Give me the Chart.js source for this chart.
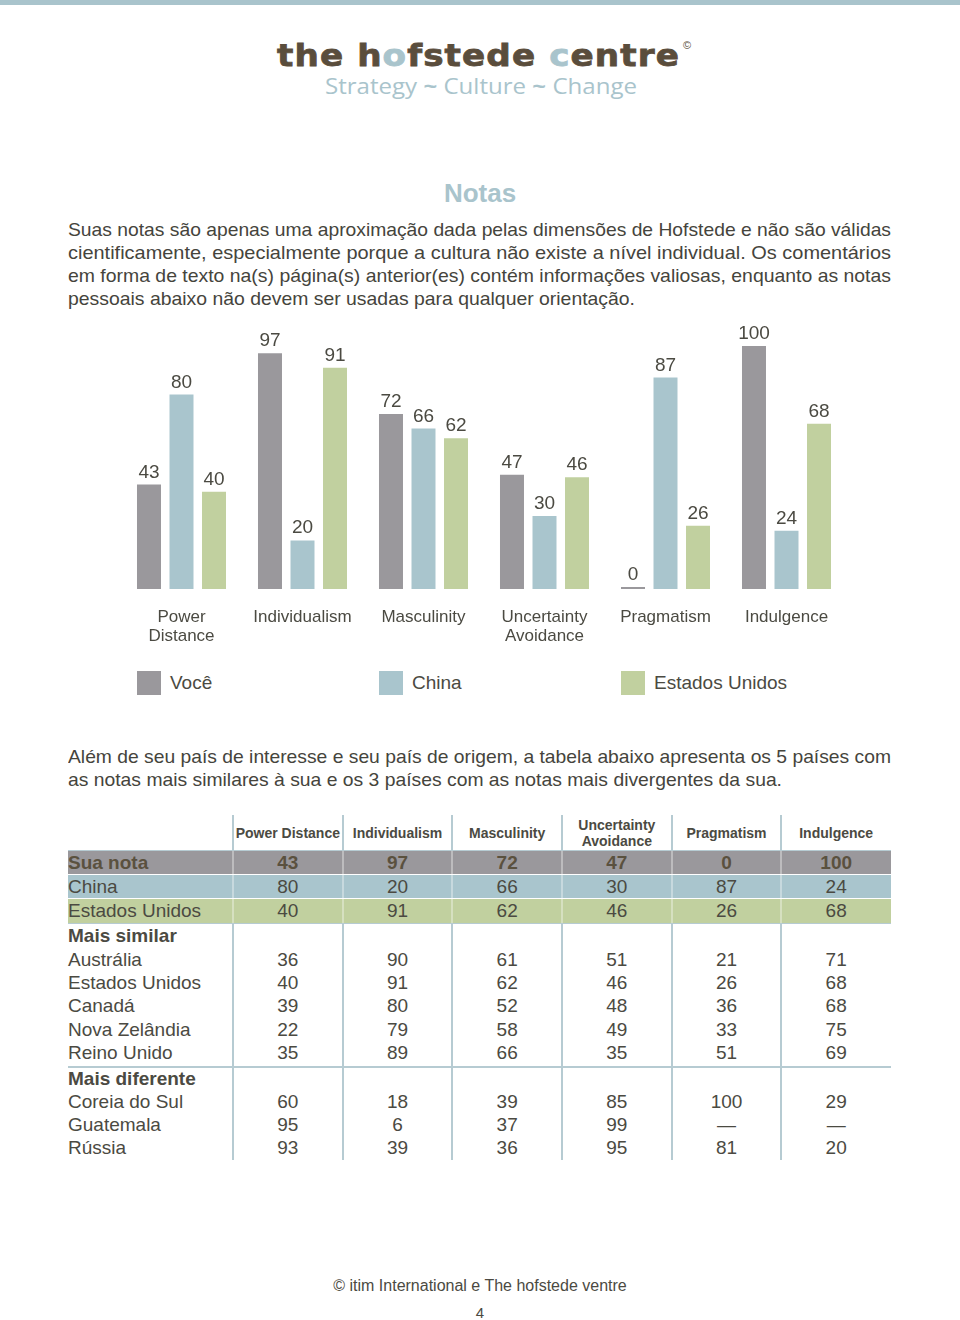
<!DOCTYPE html>
<html lang="pt">
<head>
<meta charset="utf-8">
<title>Notas</title>
<script src="https://cdn.jsdelivr.net/npm/chart.js@4.4.1/dist/chart.umd.min.js"></script>
<style>
  html, body { margin: 0; padding: 0; background: #fff; }
  body {
    width: 960px; height: 1320px; position: relative; overflow: hidden;
    font-family: "Liberation Sans", Arial, sans-serif; color: #4b4a42;
  }
  .band { position: absolute; left: 0; top: 0; width: 960px; height: 5px; background: #a9c4cc; }
  .fit { position: absolute; white-space: nowrap; }
  .fit > span { display: inline-block; transform-origin: 0 0; }
  #logo { font-family: "DejaVu Sans", sans-serif; font-weight: bold; font-size: 31px; line-height: 31px; color: #5a4d3c; letter-spacing: 1px; -webkit-text-stroke: 0.8px #5a4d3c; }
  #logo .lb { color: #a9c4cc; -webkit-text-stroke: 0.8px #a9c4cc; }
  .copy { position: absolute; font-size: 11px; color: #5a4d3c; }
  #tagline { font-family: "Open Sans", sans-serif; font-size: 21px; line-height: 21px; color: #a9c4cc; }
  #tagline i { font-style: normal; font-weight: bold; }
  #title { position: absolute; left: 0; width: 960px; top: 178px; text-align: center; font-weight: bold; font-size: 26px; line-height: 30px; color: #a9c4cc; }
  .para { font-size: 19px; line-height: 23px; color: #45443c; }
  #chartBox { position: absolute; left: 0; top: 320px; }
  .legend-item { position: absolute; top: 671px; height: 24px; font-size: 19px; line-height: 24px; color: #4b4a42; }
  .legend-item .sw { position: absolute; left: 0; top: 0; width: 24px; height: 24px; }
  .legend-item .tx { position: absolute; left: 33px; top: 0; white-space: nowrap; }
  .row { position: absolute; left: 68px; width: 823px; }
  .cell { position: absolute; top: 0; height: 100%; display: flex; align-items: center; white-space: nowrap; font-size: 19px; }
  .num { justify-content: center; }
  .hcell { font-size: 14px; font-weight: bold; line-height: 16px; text-align: center; justify-content: center; }
  .vline { position: absolute; width: 2px; }
  .hline { position: absolute; left: 68px; width: 823px; height: 2px; background: #b6cbd2; }
  #footer { position: absolute; left: 0; width: 960px; top: 1276px; text-align: center; font-size: 16px; line-height: 20px; color: #4b4a42; }
  #page { position: absolute; left: 0; width: 960px; top: 1304px; text-align: center; font-size: 15px; line-height: 18px; color: #4b4a42; }
</style>
</head>
<body>
<div class="band"></div>
<div class="fit" id="logo" style="left:277px; top:40px;" data-w="403"><span>the h<span class="lb">o</span>fstede <span class="lb">c</span>entre</span></div>
<div class="copy" style="left:683px; top:39px;">©</div>
<div class="fit" id="tagline" style="left:325px; top:76px;" data-w="312"><span>Strategy <i>~</i> Culture <i>~</i> Change</span></div>

<div id="title">Notas</div>

<div class="fit para" style="left:68px; top:218px;" data-w="823"><span>Suas notas são apenas uma aproximação dada pelas dimensões de Hofstede e não são válidas</span></div>
<div class="fit para" style="left:68px; top:241px;" data-w="823"><span>cientificamente, especialmente porque a cultura não existe a nível individual. Os comentários</span></div>
<div class="fit para" style="left:68px; top:264px;" data-w="823"><span>em forma de texto na(s) página(s) anterior(es) contém informações valiosas, enquanto as notas</span></div>
<div class="fit para" style="left:68px; top:287px;" data-w="567"><span>pessoais abaixo não devem ser usadas para qualquer orientação.</span></div>

<div id="chartBox"><canvas id="scoreChart" width="960" height="340"></canvas></div>
<div id="legend"></div>

<div class="fit para" style="left:68px; top:745px;" data-w="823"><span>Além de seu país de interesse e seu país de origem, a tabela abaixo apresenta os 5 países com</span></div>
<div class="fit para" style="left:68px; top:768px;" data-w="714"><span>as notas mais similares à sua e os 3 países com as notas mais divergentes da sua.</span></div>

<div id="table"></div>

<div id="footer">© itim International e The hofstede ventre</div>
<div id="page">4</div>

<script>
// Dimensions and scores
const dimensions = ["Power Distance", "Individualism", "Masculinity", "Uncertainty Avoidance", "Pragmatism", "Indulgence"];
const axisLabels = [["Power", "Distance"], ["Individualism"], ["Masculinity"], ["Uncertainty", "Avoidance"], ["Pragmatism"], ["Indulgence"]];
const seriesNames = ["Você", "China", "Estados Unidos"];
const seriesColors = ["#9a989c", "#a9c5cd", "#c1d09f"];
const youScores = [43, 97, 72, 47, 0, 100];
const chinaScores = [80, 20, 66, 30, 87, 24];
const usaScores = [40, 91, 62, 46, 26, 68];
const yTicks = [0, 100];

// Table rows
const similarCountries = ["Austrália", "Estados Unidos", "Canadá", "Nova Zelândia", "Reino Unido"];
const similarScores = [
  [36, 90, 61, 51, 21, 71],
  [40, 91, 62, 46, 26, 68],
  [39, 80, 52, 48, 36, 68],
  [22, 79, 58, 49, 33, 75],
  [35, 89, 66, 35, 51, 69],
];
const differentCountries = ["Coreia do Sul", "Guatemala", "Rússia"];
const differentScores = [
  [60, 18, 39, 85, 100, 29],
  [95, 6, 37, 99, null, null],
  [93, 39, 36, 95, 81, 20],
];

const textColor = "#4b4a42";
const fontFamily = "'Liberation Sans', Arial, sans-serif";

// Value labels above bars
const barValueLabels = {
  id: "barValueLabels",
  afterDatasetsDraw(chart) {
    const ctx = chart.ctx;
    ctx.save();
    ctx.font = "19px " + fontFamily;
    ctx.fillStyle = textColor;
    ctx.textAlign = "center";
    ctx.textBaseline = "alphabetic";
    chart.data.datasets.forEach((ds, i) => {
      chart.getDatasetMeta(i).data.forEach((bar, j) => {
        ctx.fillText(ds.data[j], bar.x, bar.y - 7);
      });
    });
    ctx.restore();
  },
};

const scoreChart = new Chart(document.getElementById("scoreChart"), {
  type: "bar",
  data: {
    labels: axisLabels,
    datasets: [youScores, chinaScores, usaScores].map((values, i) => ({
      label: seriesNames[i],
      data: values,
      backgroundColor: seriesColors[i],
      borderWidth: 0,
    })),
  },
  options: {
    responsive: false,
    animation: false,
    layout: { padding: { left: 121, right: 113, top: 26, bottom: 0 } },
    categoryPercentage: 0.806,
    barPercentage: 0.738,
    minBarLength: 2,
    plugins: {
      legend: { display: false },
      tooltip: { enabled: false },
    },
    scales: {
      x: {
        grid: { display: false },
        border: { display: false },
        ticks: {
          color: textColor,
          font: { size: 17, family: fontFamily, lineHeight: 1.12 },
          padding: 11,
          maxRotation: 0,
          autoSkip: false,
        },
        afterFit(scale) {
          scale.height = 71;
        },
      },
      y: {
        display: false,
        min: yTicks[0],
        max: yTicks[1],
      },
    },
  },
  plugins: [barValueLabels],
});

// Legend lined up with the first bar of groups 1, 3 and 5
const legendEl = document.getElementById("legend");
const firstBars = scoreChart.getDatasetMeta(0).data;
seriesNames.forEach((name, i) => {
  const bar = firstBars[i * 2];
  const item = document.createElement("div");
  item.className = "legend-item";
  item.style.left = Math.round(bar.x - bar.width / 2) + "px";
  item.innerHTML = `<span class="sw" style="background:${seriesColors[i]}"></span><span class="tx">${name}</span>`;
  legendEl.appendChild(item);
});

// Table
const tableEl = document.getElementById("table");
const labelColWidth = 165;
const colWidth = 109.67;
const lineColor = "#b6cbd2";

function addRow(top, height, opts) {
  const row = document.createElement("div");
  row.className = "row";
  row.style.top = top + "px";
  row.style.height = height + "px";
  if (opts.bg) row.style.background = opts.bg;
  if (opts.label !== undefined) {
    const c = document.createElement("div");
    c.className = "cell";
    c.style.left = "0px";
    c.textContent = opts.label;
    if (opts.bold) c.style.fontWeight = "bold";
    if (opts.color) c.style.color = opts.color;
    row.appendChild(c);
  }
  (opts.values || []).forEach((v, k) => {
    const c = document.createElement("div");
    c.className = opts.header ? "cell hcell" : "cell num";
    c.style.left = labelColWidth + k * colWidth + "px";
    c.style.width = colWidth + "px";
    if (opts.header) c.innerHTML = v;
    else c.textContent = v === null ? "—" : v;
    if (opts.bold) c.style.fontWeight = "bold";
    if (opts.color) c.style.color = opts.color;
    row.appendChild(c);
  });
  tableEl.appendChild(row);
}

addRow(815, 36, { header: true, values: dimensions.map((d) => d.replace("Uncertainty ", "Uncertainty<br>")) });
addRow(851, 23, { label: "Sua nota", values: youScores, bg: seriesColors[0], bold: true, color: "#5a513f" });
addRow(875, 23, { label: "China", values: chinaScores, bg: seriesColors[1] });
addRow(899, 24, { label: seriesNames[2], values: usaScores, bg: seriesColors[2] });
addRow(924, 24, { label: "Mais similar", bold: true });
similarCountries.forEach((name, i) => {
  addRow(948 + i * 23.3, 23.3, { label: name, values: similarScores[i] });
});
addRow(1068, 22, { label: "Mais diferente", bold: true });
differentCountries.forEach((name, i) => {
  addRow(1090 + i * 23, 23, { label: name, values: differentScores[i] });
});

// grid lines
for (let k = 0; k < dimensions.length; k++) {
  const x = 68 + labelColWidth + k * colWidth - 1;
  [[815, 851, lineColor], [851, 923, "rgba(255,255,255,0.35)"], [923, 1160, lineColor]].forEach(([y0, y1, col]) => {
    const v = document.createElement("div");
    v.className = "vline";
    v.style.left = x + "px";
    v.style.top = y0 + "px";
    v.style.height = y1 - y0 + "px";
    v.style.background = col;
    tableEl.appendChild(v);
  });
}
[[850, lineColor, 1], [874, "rgba(255,255,255,0.45)", 1], [898, "rgba(255,255,255,0.45)", 1], [923, lineColor, 1], [1066, lineColor, 2]].forEach(([y, col, h]) => {
  const l = document.createElement("div");
  l.className = "hline";
  l.style.top = y + "px";
  l.style.height = h + "px";
  l.style.background = col;
  tableEl.appendChild(l);
});

// squeeze text lines to the widths seen on the page
function fitLines() {
  document.querySelectorAll(".fit").forEach((el) => {
    const span = el.firstElementChild;
    span.style.transform = "";
    const w = span.getBoundingClientRect().width;
    const target = parseFloat(el.dataset.w);
    if (w > 0 && target) span.style.transform = `scaleX(${target / w})`;
  });
}
fitLines();
if (document.fonts && document.fonts.ready) document.fonts.ready.then(fitLines);
</script>
</body>
</html>
